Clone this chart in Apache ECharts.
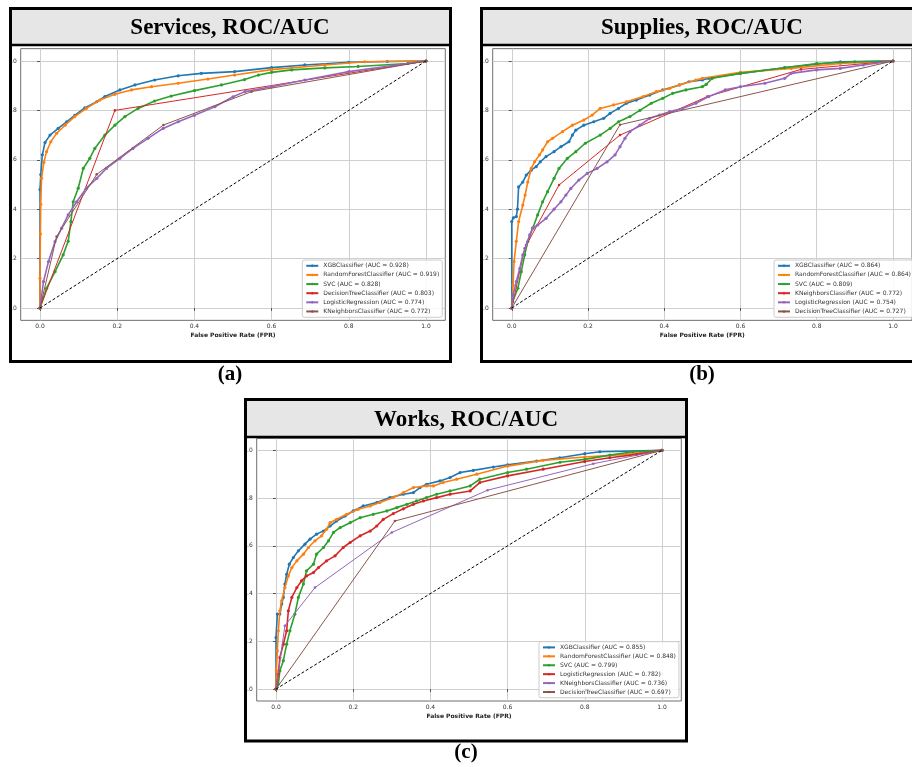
<!DOCTYPE html>
<html>
<head>
<meta charset="utf-8">
<script src="https://cdn.jsdelivr.net/npm/echarts@6/dist/echarts.min.js"></script>
<style>html,body{margin:0;padding:0;background:#fff}#chart{width:912px;height:767px}</style>
</head>
<body>
<div id="chart"></div>
<script>
// ---------- tick values ----------
const TICKS = [0, 0.2, 0.4, 0.6, 0.8, 1.0];
const COLORS = ['#1f77b4', '#ff7f0e', '#2ca02c', '#d62728', '#9467bd', '#8c564b'];
const DIAG = [[0, 0], [1, 1]];

// ---------- (a) Services ----------
const a_names = ['XGBClassifier (AUC = 0.928)', 'RandomForestClassifier (AUC = 0.919)', 'SVC (AUC = 0.828)',
  'DecisionTreeClassifier (AUC = 0.803)', 'LogisticRegression (AUC = 0.774)', 'KNeighborsClassifier (AUC = 0.772)'];
const a_xgb = [[0,0],[0,0.48],[0.002,0.54],[0.006,0.62],[0.013,0.67],[0.026,0.70],[0.047,0.727],[0.069,0.754],[0.09,0.78],[0.116,0.81],[0.147,0.835],[0.168,0.856],[0.207,0.883],[0.246,0.903],[0.297,0.923],[0.358,0.94],[0.418,0.95],[0.504,0.957],[0.6,0.973],[0.686,0.984],[0.8,0.995],[0.9,0.998],[1,1]];
const a_rf = [[0,0],[0,0.12],[0.001,0.3],[0.002,0.42],[0.004,0.525],[0.01,0.59],[0.017,0.633],[0.028,0.673],[0.043,0.707],[0.065,0.74],[0.09,0.775],[0.12,0.808],[0.155,0.842],[0.194,0.865],[0.237,0.883],[0.289,0.896],[0.358,0.91],[0.435,0.927],[0.504,0.943],[0.6,0.965],[0.738,0.984],[0.841,0.997],[1,1]];
const a_svc = [[0,0],[0.017,0.08],[0.039,0.147],[0.06,0.215],[0.073,0.27],[0.08,0.35],[0.086,0.43],[0.099,0.485],[0.112,0.565],[0.129,0.606],[0.142,0.646],[0.168,0.70],[0.194,0.74],[0.22,0.775],[0.254,0.808],[0.297,0.838],[0.34,0.858],[0.40,0.88],[0.47,0.903],[0.53,0.925],[0.566,0.943],[0.6,0.954],[0.652,0.964],[0.738,0.972],[0.824,0.978],[0.953,0.99],[1,1]];
const a_dt = [[0,0],[0.194,0.80],[1,1]];
const a_lr = [[0,0],[0.009,0.107],[0.022,0.188],[0.039,0.269],[0.056,0.323],[0.073,0.377],[0.095,0.43],[0.12,0.485],[0.147,0.525],[0.172,0.565],[0.207,0.606],[0.241,0.646],[0.28,0.687],[0.319,0.727],[0.358,0.754],[0.40,0.78],[0.453,0.815],[0.5,0.855],[0.531,0.876],[0.6,0.896],[0.686,0.923],[0.8,0.957],[0.91,0.981],[1,1]];
const a_knn = [[0,0],[0.043,0.289],[0.147,0.541],[0.32,0.741],[0.548,0.876],[1,1]];

// ---------- (b) Supplies ----------
const b_names = ['XGBClassifier (AUC = 0.864)', 'RandomForestClassifier (AUC = 0.864)', 'SVC (AUC = 0.809)',
  'KNeighborsClassifier (AUC = 0.772)', 'LogisticRegression (AUC = 0.754)', 'DecisionTreeClassifier (AUC = 0.727)'];
const b_xgb = [[0,0],[0,0.35],[0.004,0.365],[0.012,0.37],[0.015,0.40],[0.018,0.49],[0.029,0.51],[0.038,0.538],[0.051,0.558],[0.064,0.572],[0.075,0.592],[0.09,0.613],[0.111,0.633],[0.129,0.653],[0.15,0.673],[0.159,0.70],[0.168,0.72],[0.189,0.74],[0.215,0.754],[0.241,0.768],[0.258,0.788],[0.28,0.808],[0.301,0.829],[0.327,0.842],[0.362,0.862],[0.396,0.883],[0.44,0.903],[0.465,0.916],[0.5,0.923],[0.517,0.93],[0.6,0.95],[0.716,0.973],[0.8,0.987],[0.862,0.997],[1,1]];
const b_rf = [[0,0],[0.0035,0.093],[0.006,0.188],[0.012,0.27],[0.018,0.35],[0.029,0.417],[0.035,0.457],[0.042,0.51],[0.051,0.565],[0.06,0.592],[0.073,0.62],[0.081,0.64],[0.094,0.673],[0.107,0.687],[0.133,0.714],[0.159,0.74],[0.189,0.761],[0.211,0.781],[0.232,0.808],[0.267,0.822],[0.301,0.835],[0.345,0.856],[0.379,0.876],[0.414,0.889],[0.44,0.903],[0.483,0.923],[0.5,0.93],[0.6,0.954],[0.733,0.97],[0.862,0.99],[1,1]];
const b_svc = [[0,0],[0.0026,0.026],[0.016,0.08],[0.025,0.147],[0.034,0.215],[0.042,0.269],[0.055,0.323],[0.068,0.377],[0.081,0.43],[0.094,0.471],[0.111,0.525],[0.124,0.565],[0.146,0.606],[0.168,0.633],[0.193,0.667],[0.232,0.70],[0.258,0.727],[0.28,0.754],[0.31,0.775],[0.336,0.80],[0.366,0.829],[0.396,0.849],[0.422,0.869],[0.457,0.883],[0.5,0.896],[0.51,0.905],[0.526,0.93],[0.6,0.95],[0.716,0.973],[0.8,0.99],[0.9,0.997],[1,1]];
const b_knn = [[0,0],[0.034,0.242],[0.124,0.498],[0.284,0.70],[0.513,0.856],[0.759,0.966],[1,1]];
const b_lr = [[0,0],[0.0035,0.053],[0.012,0.107],[0.021,0.16],[0.029,0.215],[0.038,0.255],[0.047,0.296],[0.055,0.323],[0.068,0.336],[0.09,0.363],[0.111,0.40],[0.129,0.43],[0.142,0.457],[0.155,0.484],[0.176,0.518],[0.198,0.545],[0.224,0.565],[0.25,0.592],[0.271,0.62],[0.284,0.653],[0.297,0.687],[0.31,0.714],[0.336,0.74],[0.362,0.768],[0.388,0.781],[0.414,0.795],[0.448,0.808],[0.483,0.829],[0.517,0.856],[0.56,0.883],[0.6,0.896],[0.664,0.91],[0.716,0.93],[0.733,0.95],[0.8,0.964],[0.862,0.97],[0.922,0.984],[1,1]];
const b_dt = [[0,0],[0.284,0.742],[1,1]];

// ---------- (c) Works ----------
const c_names = ['XGBClassifier (AUC = 0.855)', 'RandomForestClassifier (AUC = 0.848)', 'SVC (AUC = 0.799)',
  'LogisticRegression (AUC = 0.782)', 'KNeighborsClassifier (AUC = 0.736)', 'DecisionTreeClassifier (AUC = 0.697)'];
const c_xgb = [[0,0],[0,0.216],[0.0035,0.314],[0.010,0.314],[0.0147,0.356],[0.019,0.384],[0.023,0.44],[0.0276,0.481],[0.0345,0.523],[0.045,0.551],[0.058,0.579],[0.075,0.607],[0.088,0.628],[0.105,0.649],[0.123,0.662],[0.14,0.683],[0.157,0.704],[0.179,0.725],[0.2,0.746],[0.226,0.767],[0.261,0.781],[0.295,0.802],[0.33,0.816],[0.356,0.823],[0.373,0.844],[0.39,0.858],[0.425,0.872],[0.451,0.886],[0.477,0.907],[0.511,0.916],[0.563,0.93],[0.6,0.939],[0.675,0.955],[0.735,0.969],[0.8,0.986],[0.839,0.994],[1,1]];
const c_rf = [[0,0],[0.0009,0.077],[0.0035,0.16],[0.006,0.244],[0.010,0.328],[0.0147,0.37],[0.023,0.425],[0.032,0.474],[0.041,0.509],[0.054,0.537],[0.071,0.565],[0.084,0.593],[0.101,0.621],[0.118,0.642],[0.131,0.669],[0.14,0.697],[0.157,0.711],[0.183,0.732],[0.213,0.753],[0.244,0.767],[0.269,0.781],[0.304,0.802],[0.33,0.823],[0.356,0.844],[0.39,0.851],[0.408,0.851],[0.433,0.865],[0.468,0.879],[0.52,0.9],[0.6,0.934],[0.692,0.958],[0.8,0.972],[0.908,0.983],[1,1]];
const c_svc = [[0,0],[0.006,0.021],[0.010,0.077],[0.019,0.119],[0.0276,0.188],[0.036,0.244],[0.049,0.314],[0.058,0.384],[0.071,0.44],[0.079,0.495],[0.097,0.523],[0.105,0.565],[0.123,0.593],[0.136,0.621],[0.149,0.656],[0.166,0.676],[0.192,0.697],[0.218,0.718],[0.252,0.732],[0.287,0.746],[0.313,0.76],[0.339,0.774],[0.364,0.788],[0.39,0.802],[0.416,0.816],[0.451,0.83],[0.503,0.851],[0.528,0.879],[0.6,0.907],[0.649,0.921],[0.736,0.95],[0.8,0.962],[0.865,0.98],[0.925,0.994],[1,1]];
const c_lr = [[0,0],[0.006,0.063],[0.010,0.132],[0.019,0.188],[0.0276,0.244],[0.032,0.328],[0.041,0.384],[0.054,0.425],[0.066,0.453],[0.079,0.474],[0.097,0.488],[0.11,0.509],[0.131,0.537],[0.153,0.558],[0.174,0.593],[0.192,0.614],[0.218,0.642],[0.244,0.662],[0.261,0.683],[0.278,0.711],[0.304,0.735],[0.33,0.755],[0.356,0.774],[0.382,0.788],[0.416,0.802],[0.451,0.816],[0.503,0.83],[0.528,0.865],[0.6,0.893],[0.692,0.921],[0.8,0.953],[0.865,0.969],[0.934,0.983],[1,1]];
const c_knn = [[0,0],[0.023,0.265],[0.101,0.425],[0.30,0.656],[0.548,0.833],[0.822,0.944],[1,1]];
const c_dt = [[0,0],[0.308,0.704],[1,1]];

// ---------- assemble ----------
const panelData = [
  { key: 'a', names: a_names, data: [a_xgb, a_rf, a_svc, a_dt, a_lr, a_knn] },
  { key: 'b', names: b_names, data: [b_xgb, b_rf, b_svc, b_knn, b_lr, b_dt] },
  { key: 'c', names: c_names, data: [c_xgb, c_rf, c_svc, c_lr, c_knn, c_dt] }
];

const gridsPos = [
  { left: 20.7, top: 48.65, width: 424.6, height: 271.7 },
  { left: 492.7, top: 48.65, width: 424.6, height: 271.7 },
  { left: 256.7, top: 438.4, width: 424.6, height: 262.6 }
];
const legendPos = [
  { left: 302.3, top: 260, gap: 3.13, pad: [2.8, 3] },
  { left: 774, top: 260, gap: 3.13, pad: [2.8, 3] },
  { left: 539, top: 641.7, gap: 2.92, pad: [2.7, 3] }
];

const FONT = 'DejaVu Sans';
const grid = [], xAxis = [], yAxis = [], series = [], legend = [];
panelData.forEach((p, i) => {
  grid.push(Object.assign({ show: true, borderColor: '#6f6f6f', borderWidth: 1, backgroundColor: 'transparent' }, gridsPos[i]));
  xAxis.push({
    gridIndex: i, type: 'value', min: -0.05, max: 1.05,
    axisLine: { show: false },
    axisTick: { show: true, length: 3, customValues: TICKS, lineStyle: { color: '#555' } },
    axisLabel: { customValues: TICKS, formatter: v => v.toFixed(1), fontSize: 6, fontFamily: FONT, color: '#333', margin: 3.5 },
    splitLine: { show: true, lineStyle: { color: '#cfcfcf', width: 1 } },
    name: 'False Positive Rate (FPR)', nameLocation: 'middle', nameGap: 12,
    nameTextStyle: { fontSize: 6, fontWeight: 'bold', fontFamily: FONT, color: '#222' }
  });
  yAxis.push({
    gridIndex: i, type: 'value', min: -0.05, max: 1.05,
    axisLine: { show: false },
    axisTick: { show: true, length: 3, customValues: TICKS, lineStyle: { color: '#555' } },
    axisLabel: { customValues: TICKS, formatter: v => v.toFixed(1).slice(1), fontSize: 6, fontFamily: FONT, color: '#333', margin: 4 },
    splitLine: { show: true, lineStyle: { color: '#cfcfcf', width: 1 } }
  });
  const legNames = [];
  p.names.forEach((nm, k) => {
    const full = p.key + '|' + nm;
    const dense = p.data[k].length > 10;
    legNames.push(full);
    series.push({
      type: 'line', name: full, xAxisIndex: i, yAxisIndex: i, data: p.data[k],
      symbol: 'circle', symbolSize: dense ? 3.2 : 2.6, showSymbol: true, animation: false, silent: true,
      lineStyle: { width: dense ? 1.6 : 1, color: COLORS[k] }, itemStyle: { color: COLORS[k] }, z: 3 + k
    });
  });
  series.push({
    type: 'line', name: p.key + '|diag', xAxisIndex: i, yAxisIndex: i, data: DIAG,
    symbol: 'none', animation: false, silent: true,
    lineStyle: { width: 1, color: '#000', type: [3, 2] }, z: 10
  });
  const lp = legendPos[i];
  legend.push({
    data: legNames, left: lp.left, top: lp.top, orient: 'vertical',
    itemWidth: 12, itemHeight: 3, itemGap: lp.gap, padding: lp.pad,
    borderColor: '#cccccc', borderWidth: 1, borderRadius: 2,
    backgroundColor: 'rgba(255,255,255,0.85)', selectedMode: false,
    formatter: n => n.slice(2),
    textStyle: { fontSize: 6, lineHeight: 6, fontFamily: FONT, color: '#333', padding: [0, 0, 0, 0] }
  });
});

// ---------- frame decorations ----------
const SERIF = '"Liberation Serif", "DejaVu Serif", serif';
function panelFrame(x, y, w, h, titleH, title, cx, label, ly) {
  return [
    { type: 'rect', shape: { x: x + 1.5, y: y + 1.5, width: w - 3, height: titleH }, style: { fill: '#e6e6e6' }, z: 90 },
    { type: 'line', shape: { x1: x, y1: y + titleH + 1.5, x2: x + w, y2: y + titleH + 1.5 }, style: { stroke: '#000', lineWidth: 2.5 }, z: 100 },
    { type: 'rect', shape: { x: x, y: y, width: w, height: h }, style: { fill: 'none', stroke: '#000', lineWidth: 3 }, z: 100 },
    { type: 'text', x: cx, y: y + 1.5 + titleH / 2 + 1, style: { text: title, font: 'bold 23px ' + SERIF, fill: '#000', textAlign: 'center', textVerticalAlign: 'middle' }, z: 110 },
    { type: 'text', x: cx, y: ly, style: { text: label, font: 'bold 21px ' + SERIF, fill: '#000', textAlign: 'center', textVerticalAlign: 'middle' }, z: 110 }
  ];
}
const graphic = [].concat(
  panelFrame(10.5, 8.5, 440, 353, 35, 'Services, ROC/AUC', 230, '(a)', 375),
  panelFrame(481.5, 8.5, 500, 353, 35, 'Supplies, ROC/AUC', 702, '(b)', 375),
  panelFrame(245.5, 399.5, 441, 341.5, 36, 'Works, ROC/AUC', 466, '(c)', 753)
);

const chart = echarts.init(document.getElementById('chart'), null, { renderer: 'canvas' });
chart.setOption({
  animation: false,
  backgroundColor: '#ffffff',
  grid, xAxis, yAxis, series, legend, graphic
});
</script>
</body>
</html>
